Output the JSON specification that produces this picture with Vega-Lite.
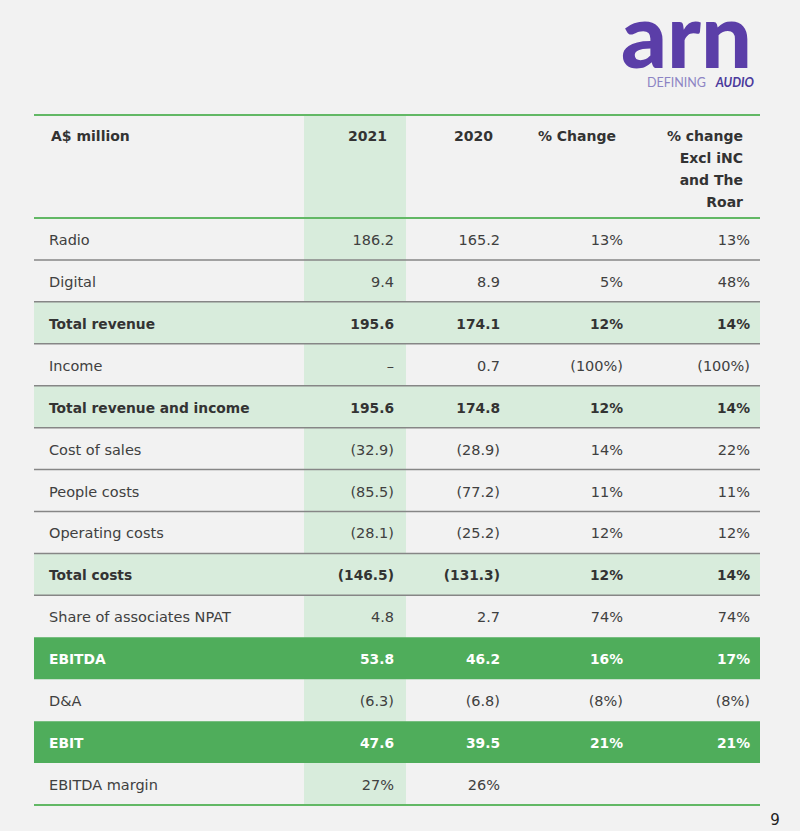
{
  "$schema": "https://vega.github.io/schema/vega-lite/v6.json",
  "width": 800,
  "height": 831,
  "autosize": "none",
  "padding": 0,
  "background": "#f2f2f2",
  "config": {"view": {"stroke": null}, "font": "DejaVu Sans", "axis": {"disable": true}},
  "datasets": {
    "rows": [
      {"item": "Radio", "y2021": "186.2", "y2020": "165.2", "chg": "13%", "chgx": "13%", "type": "normal"},
      {"item": "Digital", "y2021": "9.4", "y2020": "8.9", "chg": "5%", "chgx": "48%", "type": "normal"},
      {"item": "Total revenue", "y2021": "195.6", "y2020": "174.1", "chg": "12%", "chgx": "14%", "type": "total"},
      {"item": "Income", "y2021": "–", "y2020": "0.7", "chg": "(100%)", "chgx": "(100%)", "type": "normal"},
      {"item": "Total revenue and income", "y2021": "195.6", "y2020": "174.8", "chg": "12%", "chgx": "14%", "type": "total"},
      {"item": "Cost of sales", "y2021": "(32.9)", "y2020": "(28.9)", "chg": "14%", "chgx": "22%", "type": "normal"},
      {"item": "People costs", "y2021": "(85.5)", "y2020": "(77.2)", "chg": "11%", "chgx": "11%", "type": "normal"},
      {"item": "Operating costs", "y2021": "(28.1)", "y2020": "(25.2)", "chg": "12%", "chgx": "12%", "type": "normal"},
      {"item": "Total costs", "y2021": "(146.5)", "y2020": "(131.3)", "chg": "12%", "chgx": "14%", "type": "total"},
      {"item": "Share of associates NPAT", "y2021": "4.8", "y2020": "2.7", "chg": "74%", "chgx": "74%", "type": "normal"},
      {"item": "EBITDA", "y2021": "53.8", "y2020": "46.2", "chg": "16%", "chgx": "17%", "type": "key"},
      {"item": "D&A", "y2021": "(6.3)", "y2020": "(6.8)", "chg": "(8%)", "chgx": "(8%)", "type": "normal"},
      {"item": "EBIT", "y2021": "47.6", "y2020": "39.5", "chg": "21%", "chgx": "21%", "type": "key"},
      {"item": "EBITDA margin", "y2021": "27%", "y2020": "26%", "chg": "", "chgx": "", "type": "normal"}
    ],
    "header": [
      {"sec": "header", "col": "item", "text": "A$ million"},
      {"sec": "header", "col": "y2021", "text": "2021"},
      {"sec": "header", "col": "y2020", "text": "2020"},
      {"sec": "header", "col": "chg", "text": "% Change"},
      {"sec": "header", "col": "chgx", "text": "% change\nExcl iNC\nand The\nRoar"}
    ],
    "cols": [
      {"col": "item", "idx": 0},
      {"col": "y2021", "idx": 1},
      {"col": "y2020", "idx": 2},
      {"col": "chg", "idx": 3},
      {"col": "chgx", "idx": 4}
    ],
    "brand": [
      {"sec": "header", "logo": "arn", "tag1": "DEFINING", "tag2": "AUDIO"}
    ]
  },
  "layer": [
    {
      "data": {"name": "rows"},
      "encoding": {
        "y": {"field": "item", "type": "nominal", "axis": null,
          "scale": {"type": "band", "domain": ["Radio", "Digital", "Total revenue", "Income", "Total revenue and income", "Cost of sales", "People costs", "Operating costs", "Total costs", "Share of associates NPAT", "EBITDA", "D&A", "EBIT", "EBITDA margin"], "range": [218, 805], "paddingInner": 0, "paddingOuter": 0}}
      },
      "layer": [
        {
          "mark": {"type": "rect", "color": "#d8ecdc", "xOffset": -90, "x2Offset": 12},
          "encoding": {
            "x": {"datum": 1, "type": "quantitative", "axis": null, "scale": {"type": "linear", "domain": [0, 1, 2, 3, 4], "range": [49, 394, 500, 623, 750], "nice": false, "zero": false}},
            "x2": {"datum": 1}
          }
        },
        {
          "transform": [{"filter": "datum.type != 'normal'"}],
          "mark": {"type": "rect", "xOffset": -15, "x2Offset": 10},
          "encoding": {
            "x": {"datum": 0, "type": "quantitative", "axis": null, "scale": {"type": "linear", "domain": [0, 1, 2, 3, 4], "range": [49, 394, 500, 623, 750], "nice": false, "zero": false}},
            "x2": {"datum": 4},
            "color": {"field": "type", "type": "nominal", "legend": null, "scale": {"domain": ["total", "key"], "range": ["#d8ecdc", "#4fad5b"]}}
          }
        },
        {
          "transform": [{"filter": {"not": {"field": "item", "oneOf": ["Radio", "EBITDA", "D&A", "EBIT", "EBITDA margin"]}}}],
          "mark": {"type": "rule", "color": "#868686", "strokeWidth": 1.5, "xOffset": -15, "x2Offset": 10},
          "encoding": {
            "x": {"datum": 0, "type": "quantitative", "axis": null, "scale": {"type": "linear", "domain": [0, 1, 2, 3, 4], "range": [49, 394, 500, 623, 750], "nice": false, "zero": false}},
            "x2": {"datum": 4},
            "y": {"field": "item", "type": "nominal", "bandPosition": 0, "axis": null,
              "scale": {"type": "band", "domain": ["Radio", "Digital", "Total revenue", "Income", "Total revenue and income", "Cost of sales", "People costs", "Operating costs", "Total costs", "Share of associates NPAT", "EBITDA", "D&A", "EBIT", "EBITDA margin"], "range": [218, 805], "paddingInner": 0, "paddingOuter": 0}}
          }
        },
        {
          "transform": [{"filter": "datum.item == 'EBITDA margin'"}],
          "mark": {"type": "rule", "color": "#62b865", "strokeWidth": 2, "xOffset": -15, "x2Offset": 10},
          "encoding": {
            "x": {"datum": 0, "type": "quantitative", "axis": null, "scale": {"type": "linear", "domain": [0, 1, 2, 3, 4], "range": [49, 394, 500, 623, 750], "nice": false, "zero": false}},
            "x2": {"datum": 4},
            "y": {"field": "item", "type": "nominal", "bandPosition": 1, "axis": null,
              "scale": {"type": "band", "domain": ["Radio", "Digital", "Total revenue", "Income", "Total revenue and income", "Cost of sales", "People costs", "Operating costs", "Total costs", "Share of associates NPAT", "EBITDA", "D&A", "EBIT", "EBITDA margin"], "range": [218, 805], "paddingInner": 0, "paddingOuter": 0}}
          }
        },
        {
          "transform": [{"filter": "datum.type == 'normal'"}],
          "mark": {"type": "text", "align": "left", "baseline": "middle", "fontSize": 14.5, "color": "#404040", "yOffset": 2},
          "encoding": {
            "x": {"datum": 0, "type": "quantitative", "axis": null, "scale": {"type": "linear", "domain": [0, 1, 2, 3, 4], "range": [49, 394, 500, 623, 750], "nice": false, "zero": false}},
            "text": {"field": "item"}
          }
        },
        {
          "transform": [{"filter": "datum.type != 'normal'"}],
          "mark": {"type": "text", "align": "left", "baseline": "middle", "fontSize": 13.8, "fontWeight": "bold", "yOffset": 2},
          "encoding": {
            "x": {"datum": 0, "type": "quantitative", "axis": null, "scale": {"type": "linear", "domain": [0, 1, 2, 3, 4], "range": [49, 394, 500, 623, 750], "nice": false, "zero": false}},
            "text": {"field": "item"},
            "color": {"condition": {"test": "datum.type == 'key'", "value": "#ffffff"}, "value": "#333333"}
          }
        },
        {
          "transform": [
            {"filter": "datum.type == 'normal'"},
            {"fold": ["y2021", "y2020", "chg", "chgx"], "as": ["col", "val"]},
            {"lookup": "col", "from": {"data": {"name": "cols"}, "key": "col", "fields": ["idx"]}}
          ],
          "mark": {"type": "text", "align": "right", "baseline": "middle", "fontSize": 14.5, "color": "#404040", "yOffset": 2},
          "encoding": {
            "x": {"field": "idx", "type": "quantitative", "axis": null, "scale": {"type": "linear", "domain": [0, 1, 2, 3, 4], "range": [49, 394, 500, 623, 750], "nice": false, "zero": false}},
            "text": {"field": "val"}
          }
        },
        {
          "transform": [
            {"filter": "datum.type != 'normal'"},
            {"fold": ["y2021", "y2020", "chg", "chgx"], "as": ["col", "val"]},
            {"lookup": "col", "from": {"data": {"name": "cols"}, "key": "col", "fields": ["idx"]}}
          ],
          "mark": {"type": "text", "align": "right", "baseline": "middle", "fontSize": 13.8, "fontWeight": "bold", "yOffset": 2},
          "encoding": {
            "x": {"field": "idx", "type": "quantitative", "axis": null, "scale": {"type": "linear", "domain": [0, 1, 2, 3, 4], "range": [49, 394, 500, 623, 750], "nice": false, "zero": false}},
            "text": {"field": "val"},
            "color": {"condition": {"test": "datum.type == 'key'", "value": "#ffffff"}, "value": "#333333"}
          }
        },
        {
          "transform": [{"filter": "datum.item == 'EBITDA margin'"}],
          "mark": {"type": "text", "align": "center", "baseline": "middle", "fontSize": 15, "color": "#222222", "xOffset": 25, "yOffset": 15},
          "encoding": {
            "x": {"datum": 4, "type": "quantitative", "axis": null, "scale": {"type": "linear", "domain": [0, 1, 2, 3, 4], "range": [49, 394, 500, 623, 750], "nice": false, "zero": false}},
            "y": {"field": "item", "type": "nominal", "bandPosition": 1, "axis": null,
              "scale": {"type": "band", "domain": ["Radio", "Digital", "Total revenue", "Income", "Total revenue and income", "Cost of sales", "People costs", "Operating costs", "Total costs", "Share of associates NPAT", "EBITDA", "D&A", "EBIT", "EBITDA margin"], "range": [218, 805], "paddingInner": 0, "paddingOuter": 0}},
            "text": {"value": "9"}
          }
        }
      ]
    },
    {
      "data": {"name": "header"},
      "encoding": {
        "y": {"field": "sec", "type": "nominal", "axis": null, "scale": {"type": "band", "domain": ["header"], "range": [115, 218], "paddingInner": 0, "paddingOuter": 0}}
      },
      "layer": [
        {
          "transform": [{"filter": "datum.col == 'y2021'"}],
          "mark": {"type": "rect", "color": "#d8ecdc", "xOffset": -90, "x2Offset": 12},
          "encoding": {
            "x": {"datum": 1, "type": "quantitative", "axis": null, "scale": {"type": "linear", "domain": [0, 1, 2, 3, 4], "range": [49, 394, 500, 623, 750], "nice": false, "zero": false}},
            "x2": {"datum": 1}
          }
        },
        {
          "transform": [{"filter": "datum.col == 'item'"}],
          "mark": {"type": "rule", "color": "#62b865", "strokeWidth": 2, "xOffset": -15, "x2Offset": 10},
          "encoding": {
            "x": {"datum": 0, "type": "quantitative", "axis": null, "scale": {"type": "linear", "domain": [0, 1, 2, 3, 4], "range": [49, 394, 500, 623, 750], "nice": false, "zero": false}},
            "x2": {"datum": 4},
            "y": {"field": "sec", "type": "nominal", "bandPosition": 0, "axis": null, "scale": {"type": "band", "domain": ["header"], "range": [115, 218], "paddingInner": 0, "paddingOuter": 0}}
          }
        },
        {
          "transform": [{"filter": "datum.col == 'item'"}],
          "mark": {"type": "rule", "color": "#62b865", "strokeWidth": 2, "xOffset": -15, "x2Offset": 10},
          "encoding": {
            "x": {"datum": 0, "type": "quantitative", "axis": null, "scale": {"type": "linear", "domain": [0, 1, 2, 3, 4], "range": [49, 394, 500, 623, 750], "nice": false, "zero": false}},
            "x2": {"datum": 4},
            "y": {"field": "sec", "type": "nominal", "bandPosition": 1, "axis": null, "scale": {"type": "band", "domain": ["header"], "range": [115, 218], "paddingInner": 0, "paddingOuter": 0}}
          }
        },
        {
          "transform": [
            {"filter": "datum.col == 'item'"},
            {"lookup": "col", "from": {"data": {"name": "cols"}, "key": "col", "fields": ["idx"]}}
          ],
          "mark": {"type": "text", "align": "left", "baseline": "top", "fontSize": 14, "fontWeight": "bold", "color": "#333333", "xOffset": 2, "yOffset": 15, "lineBreak": "\n", "lineHeight": 22},
          "encoding": {
            "x": {"field": "idx", "type": "quantitative", "axis": null, "scale": {"type": "linear", "domain": [0, 1, 2, 3, 4], "range": [49, 394, 500, 623, 750], "nice": false, "zero": false}},
            "y": {"field": "sec", "type": "nominal", "bandPosition": 0, "axis": null, "scale": {"type": "band", "domain": ["header"], "range": [115, 218], "paddingInner": 0, "paddingOuter": 0}},
            "text": {"field": "text"}
          }
        },
        {
          "transform": [
            {"filter": "datum.col != 'item'"},
            {"lookup": "col", "from": {"data": {"name": "cols"}, "key": "col", "fields": ["idx"]}}
          ],
          "mark": {"type": "text", "align": "right", "baseline": "top", "fontSize": 14, "fontWeight": "bold", "color": "#333333", "xOffset": -7, "yOffset": 15, "lineBreak": "\n", "lineHeight": 22},
          "encoding": {
            "x": {"field": "idx", "type": "quantitative", "axis": null, "scale": {"type": "linear", "domain": [0, 1, 2, 3, 4], "range": [49, 394, 500, 623, 750], "nice": false, "zero": false}},
            "y": {"field": "sec", "type": "nominal", "bandPosition": 0, "axis": null, "scale": {"type": "band", "domain": ["header"], "range": [115, 218], "paddingInner": 0, "paddingOuter": 0}},
            "text": {"field": "text"}
          }
        },
        {
          "data": {"name": "brand"},
          "mark": {"type": "text", "font": "Lato", "align": "right", "baseline": "alphabetic", "fontSize": 90, "fontWeight": 900, "color": "#5b3ea8", "xOffset": 2, "yOffset": -47},
          "encoding": {
            "x": {"datum": 4, "type": "quantitative", "axis": null, "scale": {"type": "linear", "domain": [0, 1, 2, 3, 4], "range": [49, 394, 500, 623, 750], "nice": false, "zero": false}},
            "y": {"field": "sec", "type": "nominal", "bandPosition": 0, "axis": null, "scale": {"type": "band", "domain": ["header"], "range": [115, 218], "paddingInner": 0, "paddingOuter": 0}},
            "text": {"field": "logo"}
          }
        },
        {
          "data": {"name": "brand"},
          "mark": {"type": "text", "font": "Lato", "align": "right", "baseline": "alphabetic", "fontSize": 12.5, "color": "#8d84c4", "xOffset": -44, "yOffset": -28},
          "encoding": {
            "x": {"datum": 4, "type": "quantitative", "axis": null, "scale": {"type": "linear", "domain": [0, 1, 2, 3, 4], "range": [49, 394, 500, 623, 750], "nice": false, "zero": false}},
            "y": {"field": "sec", "type": "nominal", "bandPosition": 0, "axis": null, "scale": {"type": "band", "domain": ["header"], "range": [115, 218], "paddingInner": 0, "paddingOuter": 0}},
            "text": {"field": "tag1"}
          }
        },
        {
          "data": {"name": "brand"},
          "mark": {"type": "text", "font": "Lato", "align": "right", "baseline": "alphabetic", "fontSize": 12.5, "fontWeight": "bold", "fontStyle": "italic", "color": "#4b3a9c", "xOffset": 4, "yOffset": -28},
          "encoding": {
            "x": {"datum": 4, "type": "quantitative", "axis": null, "scale": {"type": "linear", "domain": [0, 1, 2, 3, 4], "range": [49, 394, 500, 623, 750], "nice": false, "zero": false}},
            "y": {"field": "sec", "type": "nominal", "bandPosition": 0, "axis": null, "scale": {"type": "band", "domain": ["header"], "range": [115, 218], "paddingInner": 0, "paddingOuter": 0}},
            "text": {"field": "tag2"}
          }
        }
      ]
    }
  ],
  "resolve": {"scale": {"y": "independent"}}
}
